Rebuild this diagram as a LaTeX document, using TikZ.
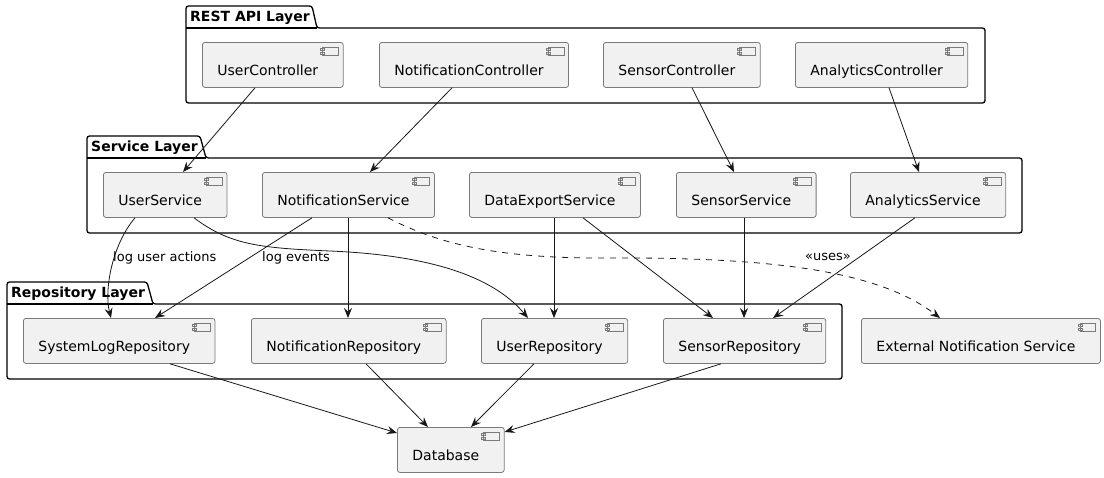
\documentclass[tikz,border=0pt]{standalone}
\usepackage{fontspec}
\setmainfont{DejaVu Sans}
\usetikzlibrary{arrows.meta,calc}
\definecolor{compfill}{HTML}{F1F1F1}
\definecolor{compline}{HTML}{7A7A7A}
\definecolor{ink}{HTML}{181818}
\begin{document}
\begin{tikzpicture}[x=1pt,y=-1pt,
  comp/.style={draw=compline, fill=compfill, line width=0.8pt, rounded corners=2.5pt,
    anchor=north west, minimum height=45pt, inner xsep=0pt, inner ysep=0pt,
    text height=21pt, text depth=0pt, font=\fontsize{14}{16}\selectfont,
    path picture={
      \draw[compline, line width=0.7pt, fill=compfill, sharp corners]
        ($(path picture bounding box.north east)+(-20.5,4.7)$) rectangle ++(15.8,8.3)
        ($(path picture bounding box.north east)+(-22.5,6.3)$) rectangle ++(4,1.8)
        ($(path picture bounding box.north east)+(-22.5,9.7)$) rectangle ++(4,1.8);
    }},
  pkg/.style={draw=black, fill=white, line width=1.3pt, rounded corners=2.5pt},
  pkgtitle/.style={anchor=base west, inner sep=0pt, font=\bfseries\fontsize{14}{16}\selectfont},
  lbl/.style={anchor=west, inner sep=0pt, font=\fontsize{13}{15}\selectfont},
  arr/.style={draw=ink, line width=0.8pt, -{Stealth[length=10pt,width=8pt,inset=3.5pt]}},
  dsh/.style={arr, dash pattern=on 6pt off 6pt}
]
\useasboundingbox (0,0) rectangle (1104,477);

% packages
\draw[pkg] (186,103) -- (186,6) -- (312,6) -- (317,28) -- (985,28) -- (985,103) -- cycle;
\draw[black, line width=1.3pt] (186,28) -- (317,28);
\node[pkgtitle] (prest) at (190,21) {REST API Layer};

\draw[pkg] (87,233) -- (87,136) -- (200,136) -- (206,158) -- (1022,158) -- (1022,233) -- cycle;
\draw[black, line width=1.3pt] (87,158) -- (206,158);
\node[pkgtitle] (pserv) at (91,151) {Service Layer};

\draw[pkg] (7,379) -- (7,282) -- (147,282) -- (153,304) -- (842,304) -- (842,379) -- cycle;
\draw[black, line width=1.3pt] (7,304) -- (153,304);
\node[pkgtitle] (prepo) at (11,297) {Repository Layer};

% components
\newcommand{\cname}[1]{\hspace*{15pt}#1\hspace*{25pt}}
\node[comp] (uc) at (202,42) {\cname{UserController}};
\node[comp] (nc) at (379,42) {\cname{NotificationController}};
\node[comp] (sc) at (603,42) {\cname{SensorController}};
\node[comp] (ac) at (795,42) {\cname{AnalyticsController}};

\node[comp] (us) at (103,172) {\cname{UserService}};
\node[comp] (ns) at (262,172) {\cname{NotificationService}};
\node[comp] (ds) at (469,172) {\cname{DataExportService}};
\node[comp] (ss) at (676,172) {\cname{SensorService}};
\node[comp] (as) at (850,172) {\cname{AnalyticsService}};

\node[comp] (slr) at (23,318) {\cname{SystemLogRepository}};
\node[comp] (nr) at (251,318) {\cname{NotificationRepository}};
\node[comp] (ur) at (481,318) {\cname{UserRepository}};
\node[comp] (sr) at (663,318) {\cname{SensorRepository}};
\node[comp] (ext) at (861,318) {\cname{External Notification Service}};

\node[comp] (db) at (397,427) {\cname{Database}};

% controllers -> services
\draw[arr] ($(uc.south west)+(53,0)$) -- ($(us.north west)+(80,0)$);
\draw[arr] ($(nc.south west)+(73,0)$) -- ($(ns.north west)+(108,0)$);
\draw[arr] ($(sc.south west)+(89,0)$) -- ($(ss.north west)+(58,0)$);
\draw[arr] ($(ac.south west)+(94,0)$) -- ($(as.north west)+(69,0)$);

% services -> repositories
\draw[arr] ($(us.south west)+(32,0)$) .. controls (112,245) and (104,290) .. ($(slr.north west)+(88,0)$);
\draw[arr] ($(us.south west)+(91,0)$) .. controls (230,245) and (260,248) .. (330,251)
  .. controls (450,256) and (500,285) .. ($(ur.north west)+(47,0)$);
\draw[arr] ($(ns.south west)+(50,0)$) -- ($(slr.north west)+(132,0)$);
\draw[arr] ($(ns.south west)+(86,0)$) -- ($(nr.north west)+(97,0)$);
\draw[dsh] ($(ns.south west)+(126,0)$) .. controls (440,245) and (500,258) .. (600,258)
  .. controls (760,257) and (875,268) .. ($(ext.north west)+(79,0)$);
\draw[arr] ($(ds.south west)+(85,0)$) -- ($(ur.north west)+(73,0)$);
\draw[arr] ($(ds.south west)+(114,0)$) -- ($(sr.north west)+(50,0)$);
\draw[arr] ($(ss.south west)+(68,0)$) -- ($(sr.north west)+(81,0)$);
\draw[arr] ($(as.south west)+(65,0)$) -- ($(sr.north west)+(110,0)$);

% repositories -> database
\draw[arr] ($(slr.south west)+(147,0)$) -- ($(db.north west)+(0,6)$);
\draw[arr] ($(nr.south west)+(115,0)$) -- ($(db.north west)+(31,0)$);
\draw[arr] ($(ur.south west)+(53,0)$) -- ($(db.north west)+(74,0)$);
\draw[arr] ($(sr.south west)+(58,0)$) -- ($(db.north east)+(0,5)$);

% labels
\node[lbl] (l1) at (113,258) {log user actions};
\node[lbl] (l2) at (262,258) {log events};
\node[lbl] (l3) at (805,257) {«uses»};
\end{tikzpicture}
\end{document}
